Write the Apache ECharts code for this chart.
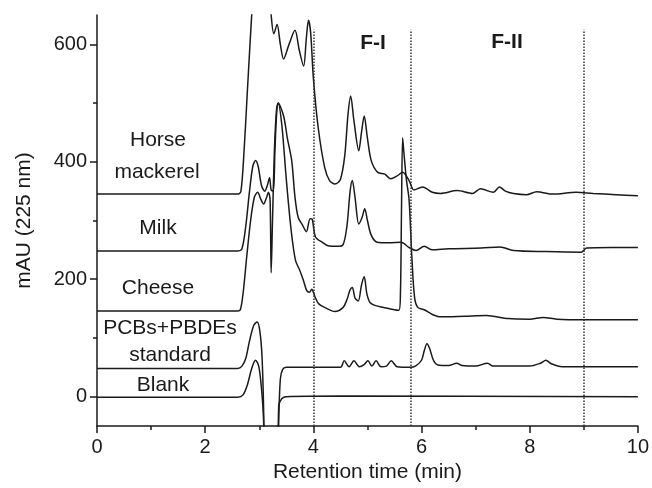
<!DOCTYPE html>
<html>
<head>
<meta charset="utf-8">
<title>Chromatograms</title>
<script src="https://cdn.jsdelivr.net/npm/echarts@6/dist/echarts.min.js"></script>
<style>
html, body { margin: 0; padding: 0; background: #fff; }
#chart { width: 652px; height: 488px; }
</style>
</head>
<body>
<div id="chart"></div>
<script>
// [retention time (min), absorbance (mAU)]
var horseMackerel = [[0,345],[1,345],[2,345],[2.6,345],[2.66,349],[2.72,420],[2.78,520],[2.86,650],[2.95,780],[3.05,800],[3.15,740],[3.22,650],[3.27,618],[3.33,634],[3.39,600],[3.45,575],[3.55,600],[3.66,624],[3.74,590],[3.82,563],[3.87,610],[3.91,641],[3.95,620],[4.0,543],[4.09,458],[4.21,390],[4.3,368],[4.4,362],[4.5,370],[4.58,410],[4.64,480],[4.69,512],[4.75,470],[4.84,419],[4.89,450],[4.94,478],[5.0,440],[5.07,402],[5.19,382],[5.32,379],[5.43,371],[5.55,376],[5.65,382],[5.77,368],[5.86,352],[6.02,357],[6.2,348],[6.35,346],[6.66,351],[6.94,346],[7.09,354],[7.33,348],[7.44,357],[7.55,350],[7.7,346],[7.94,344],[8.13,349],[8.43,345],[8.86,348],[9.17,346],[9.6,344],[10,342]];
var milk = [[0,248],[2.6,248],[2.68,252],[2.75,290],[2.82,350],[2.88,392],[2.93,402],[2.98,392],[3.04,360],[3.1,350],[3.15,360],[3.19,373],[3.22,352],[3.26,350],[3.29,420],[3.32,480],[3.35,500],[3.45,478],[3.52,440],[3.6,402],[3.66,340],[3.72,305],[3.8,292],[3.87,281],[3.94,303],[3.98,302],[4.04,272],[4.18,262],[4.27,257],[4.45,256],[4.55,259],[4.62,290],[4.68,350],[4.72,368],[4.77,340],[4.84,294],[4.9,305],[4.95,320],[5.0,300],[5.07,275],[5.18,263],[5.4,262],[5.62,263],[5.77,254],[5.9,249],[6.05,256],[6.2,250],[6.5,252],[7.1,253],[7.45,255],[7.7,249],[8.3,247],[8.95,246],[9.05,253],[9.5,254],[10,254]];
var cheese = [[0,146],[2.6,146],[2.65,148],[2.7,175],[2.77,240],[2.84,300],[2.91,340],[2.97,348],[3.03,336],[3.08,328],[3.13,338],[3.17,348],[3.2,335],[3.22,211],[3.245,300],[3.28,420],[3.32,490],[3.35,500],[3.42,460],[3.5,370],[3.59,283],[3.67,232],[3.75,215],[3.82,197],[3.88,180],[3.93,178],[3.97,183],[4.03,170],[4.1,158],[4.21,152],[4.4,145],[4.55,152],[4.62,165],[4.68,182],[4.72,186],[4.77,168],[4.83,163],[4.89,190],[4.94,204],[4.99,175],[5.05,160],[5.15,155],[5.3,152],[5.45,149],[5.58,147],[5.61,175],[5.63,320],[5.65,441],[5.67,420],[5.72,370],[5.77,335],[5.82,240],[5.87,170],[5.93,152],[6.05,148],[6.2,140],[6.35,136],[6.8,137],[7.2,138],[7.6,133],[8.0,132],[8.25,135],[8.5,132],[9.0,131],[10,131]];
var standard = [[0,48],[2.6,48],[2.68,52],[2.75,65],[2.82,95],[2.9,122],[2.96,127],[3.01,112],[3.05,70],[3.08,-20],[3.11,-200],[3.33,-200],[3.36,-40],[3.39,30],[3.43,46],[3.5,50],[4.5,50],[4.57,61],[4.66,51],[4.75,61],[4.85,51],[4.93,54],[5.01,61],[5.08,52],[5.16,61],[5.25,51],[5.35,52],[5.44,61],[5.55,51],[5.8,50],[5.9,53],[6.0,62],[6.05,78],[6.1,90],[6.15,82],[6.22,62],[6.3,54],[6.5,53],[6.65,57],[6.75,53],[7.0,52],[7.22,57],[7.32,52],[8.0,52],[8.2,57],[8.3,62],[8.4,56],[8.6,51],[10,51]];
var blank = [[0,-1],[2.6,-1],[2.7,3],[2.78,20],[2.86,48],[2.93,62],[2.99,52],[3.04,15],[3.08,-40],[3.12,-200],[3.33,-200],[3.36,-15],[3.42,-3],[3.5,0],[4.5,1],[10,0]];

var fractionCuts = [4, 5.8, 9];
var yTicks = [0, 200, 400, 600];
var yMinorTicks = [100, 300, 500];

var ink = '#1a1a1a';
var font = '"Liberation Sans", Arial, sans-serif';

function trace(name, data) {
  return {
    name: name,
    type: 'line',
    data: data,
    showSymbol: false,
    smooth: 0.3,
    clip: true,
    lineStyle: { color: ink, width: 1.5 }
  };
}

var chart = echarts.init(document.getElementById('chart'));

var series = [
  trace('Horse mackerel', horseMackerel),
  trace('Milk', milk),
  trace('Cheese', cheese),
  trace('PCBs+PBDEs standard', standard),
  trace('Blank', blank)
];

// dotted fraction boundaries
series[4].markLine = {
  silent: true,
  symbol: 'none',
  label: { show: false },
  lineStyle: { color: '#333', type: 'dotted', width: 1.5 },
  data: fractionCuts.map(function (t) {
    return [{ coord: [t, -50] }, { coord: [t, 625] }];
  })
};

var option = {
  animation: false,
  grid: { left: 97, right: 10, top: 15, bottom: 62 },
  xAxis: {
    type: 'value',
    min: 0, max: 10, interval: 2,
    name: 'Retention time (min)',
    nameLocation: 'middle',
    nameGap: 33,
    nameTextStyle: { color: ink, fontSize: 21, fontFamily: font },
    axisLine: { onZero: false, lineStyle: { color: ink, width: 1.5 } },
    axisTick: { length: 7, lineStyle: { color: ink, width: 1.5 } },
    minorTick: { show: true, splitNumber: 2, length: 4, lineStyle: { color: ink, width: 1.5 } },
    axisLabel: { color: ink, fontSize: 20, fontFamily: font, margin: 11 },
    splitLine: { show: false }
  },
  yAxis: [{
    type: 'value',
    min: -50, max: 650,
    name: 'mAU (225 nm)',
    nameLocation: 'middle',
    nameRotate: 90,
    nameGap: 62,
    nameTextStyle: { color: ink, fontSize: 21, fontFamily: font },
    axisLine: { show: true, onZero: false, lineStyle: { color: ink, width: 1.5 } },
    axisTick: { show: true, length: 7, customValues: yTicks, lineStyle: { color: ink, width: 1.5 } },
    axisLabel: { color: ink, fontSize: 20, fontFamily: font, margin: 10, customValues: yTicks },
    splitLine: { show: false }
  }, {
    type: 'value',
    min: -50, max: 650,
    position: 'left',
    axisLine: { show: false },
    axisTick: { show: true, length: 4, customValues: yMinorTicks, lineStyle: { color: ink, width: 1.5 } },
    axisLabel: { show: false },
    splitLine: { show: false }
  }],
  graphic: [
    { type: 'text', x: 158, y: 140, style: { text: 'Horse', font: '21px ' + font, fill: ink, align: 'center', verticalAlign: 'middle' } },
    { type: 'text', x: 157, y: 172, style: { text: 'mackerel', font: '21px ' + font, fill: ink, align: 'center', verticalAlign: 'middle' } },
    { type: 'text', x: 158, y: 228, style: { text: 'Milk', font: '21px ' + font, fill: ink, align: 'center', verticalAlign: 'middle' } },
    { type: 'text', x: 158, y: 288, style: { text: 'Cheese', font: '21px ' + font, fill: ink, align: 'center', verticalAlign: 'middle' } },
    { type: 'text', x: 170, y: 328, style: { text: 'PCBs+PBDEs', font: '21px ' + font, fill: ink, align: 'center', verticalAlign: 'middle' } },
    { type: 'text', x: 170, y: 355, style: { text: 'standard', font: '21px ' + font, fill: ink, align: 'center', verticalAlign: 'middle' } },
    { type: 'text', x: 163, y: 385, style: { text: 'Blank', font: '21px ' + font, fill: ink, align: 'center', verticalAlign: 'middle' } },
    { type: 'text', x: 373, y: 43, style: { text: 'F-I', font: 'bold 21px ' + font, fill: ink, align: 'center', verticalAlign: 'middle' } },
    { type: 'text', x: 507, y: 42, style: { text: 'F-II', font: 'bold 21px ' + font, fill: ink, align: 'center', verticalAlign: 'middle' } }
  ],
  series: series
};

chart.setOption(option);
</script>
</body>
</html>
